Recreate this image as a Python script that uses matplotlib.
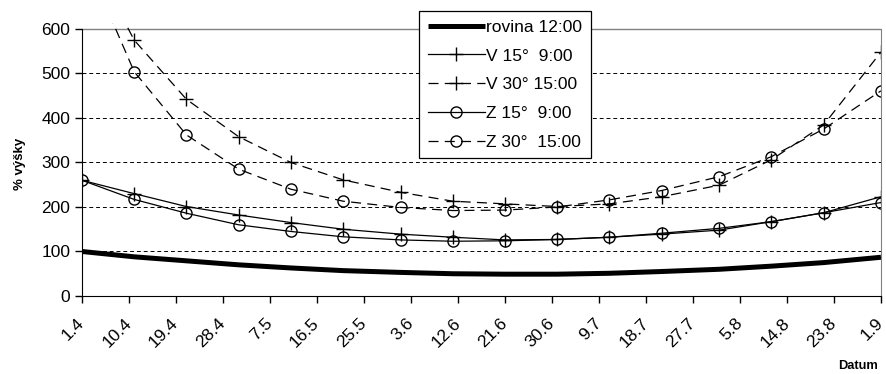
import numpy as np
import pandas as pd
import matplotlib.pyplot as plt

# sample dates (day.month) and values in % of height
dates = ["1.4", "11.4", "21.4", "1.5", "11.5", "21.5", "1.6", "11.6",
         "21.6", "1.7", "11.7", "21.7", "1.8", "11.8", "21.8", "1.9"]
rovina = [100, 88, 79, 70, 63, 57, 53, 50, 49, 49, 51, 55, 60, 67, 75, 87]
v15 = [260, 230, 201, 182, 165, 150, 139, 132, 126, 127, 132, 139, 148, 167, 187, 223]
v30 = [800, 575, 442, 358, 300, 261, 233, 213, 207, 201, 207, 223, 249, 306, 384, 548]
z15 = [260, 217, 186, 160, 145, 133, 126, 123, 124, 127, 132, 141, 152, 167, 187, 210]
z30 = [775, 504, 362, 285, 240, 213, 199, 192, 193, 200, 216, 237, 268, 313, 375, 461]

tick_labels = ["1.4", "10.4", "19.4", "28.4", "7.5", "16.5", "25.5", "3.6", "12.6",
               "21.6", "30.6", "9.7", "18.7", "27.7", "5.8", "14.8", "23.8", "1.9"]


def to_days(labels):
    d = pd.to_datetime([s + ".2005" for s in labels], format="%d.%m.%Y")
    return np.asarray((d - pd.Timestamp("2005-04-01")).days)


x = to_days(dates)
xt = to_days(tick_labels)

plt.rcParams["font.family"] = ["Liberation Sans", "DejaVu Sans"]

fig = plt.figure(figsize=(8.87, 3.74), dpi=100)
ax = fig.add_axes([0.0924, 0.2086, 0.9008, 0.7294])

ax.plot(x, rovina, color="black", lw=3.6, solid_capstyle="butt", label="rovina 12:00")
ax.plot(x, v15, color="black", lw=0.9, marker="+", ms=9.5, mew=1.0, label="V 15°  9:00")
ax.plot(x, v30, color="black", lw=0.9, ls=(0, (8, 5)), marker="+", ms=9.5, mew=1.0,
        label="V 30° 15:00")
ax.plot(x, z15, color="black", lw=0.9, marker="o", ms=8, mew=1.0, mfc="none",
        label="Z 15°  9:00")
ax.plot(x, z30, color="black", lw=0.9, ls=(0, (8, 5)), marker="o", ms=8, mew=1.0,
        mfc="none", label="Z 30°  15:00")

ax.set_xlim(xt[0], xt[-1])
ax.set_ylim(0, 613)
ax.set_yticks(range(0, 601, 100))
ax.set_xticks(xt)
ax.set_xticklabels(tick_labels, rotation=45, ha="right", va="center",
                   rotation_mode="anchor")

for v in range(100, 600, 100):
    ax.axhline(v, color="black", lw=0.7, ls=(0, (4, 3)), zorder=0.5)
ax.axhline(600, color="#808080", lw=1.0, zorder=0.5)

ax.spines["top"].set_visible(False)
ax.spines["right"].set_color("#808080")
ax.spines["right"].set_bounds(0, 600)
ax.spines["left"].set_bounds(0, 600)
ax.tick_params(axis="both", direction="out", length=5, width=1, labelsize=12.5)
ax.tick_params(axis="x", pad=13)

fig.text(0.022, 1 - 164 / 374, "% výšky", rotation=90, fontsize=9.5, fontweight="bold",
         ha="center", va="center")
fig.text(0.99, 0.005, "Datum", fontsize=9.3, fontweight="bold", ha="right", va="bottom")

leg = ax.legend(loc="upper left", bbox_to_anchor=(419 / 887, 1 - 11 / 374),
                bbox_transform=fig.transFigure, borderaxespad=0, fontsize=12.5,
                handlelength=3.3, handletextpad=0.05, labelspacing=0.78,
                borderpad=0.5, fancybox=False, framealpha=1, edgecolor="black")
leg.get_frame().set_linewidth(0.9)

fig.savefig("out.png", dpi=100)
